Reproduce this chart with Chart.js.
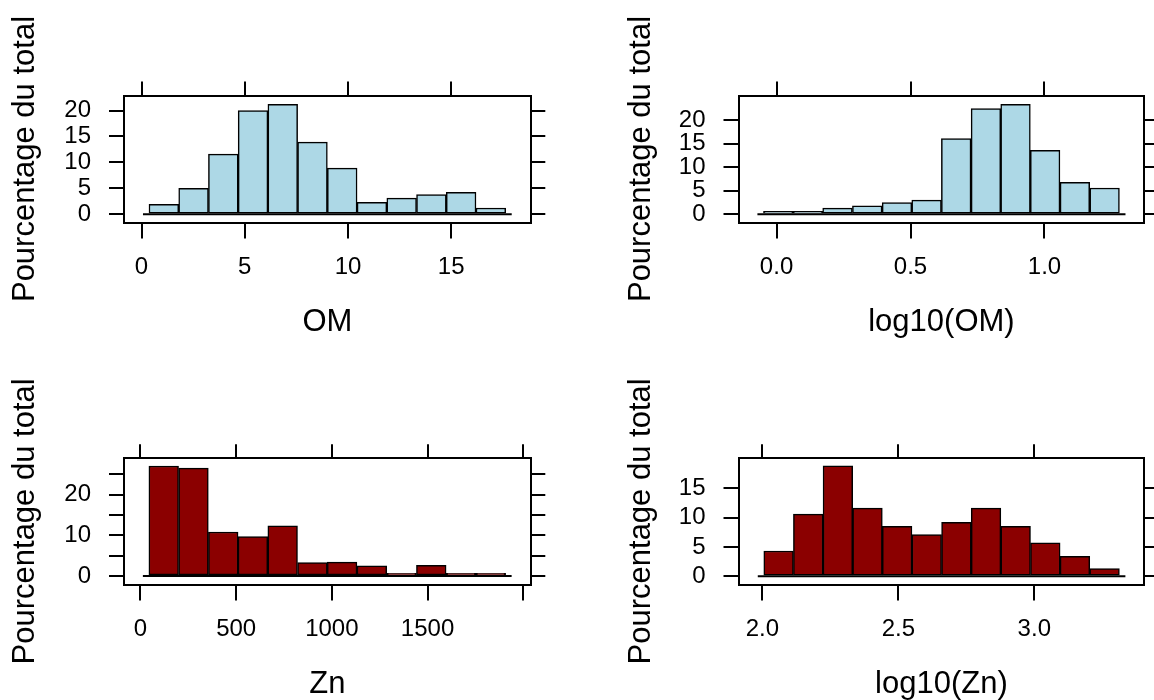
<!DOCTYPE html>
<html>
<head>
<meta charset="utf-8">
<script src="https://cdn.jsdelivr.net/npm/chart.js@4.4.1/dist/chart.umd.min.js"></script>
<style>
  html, body { margin: 0; padding: 0; background: #fff; overflow: hidden; }
  canvas { position: absolute; left: 0; top: 0; }
</style>
</head>
<body>
<canvas id="omChart" width="1154" height="700"></canvas>
<canvas id="logOmChart" width="1154" height="700"></canvas>
<canvas id="znChart" width="1154" height="700"></canvas>
<canvas id="logZnChart" width="1154" height="700"></canvas>
<script>
// histogram breaks and bar heights (% of total)
const omBreaks = [0.36, 1.80, 3.24, 4.68, 6.12, 7.56, 9.00, 10.44, 11.88, 13.32, 14.76, 16.20, 17.64];
const omPct = [1.9, 5.0, 11.6, 20.0, 21.2, 13.9, 8.9, 2.3, 3.1, 3.8, 4.2, 1.2];

const logOmBreaks = [-0.049, 0.062, 0.172, 0.283, 0.394, 0.505, 0.615, 0.726, 0.837, 0.947, 1.058, 1.169, 1.280];
const logOmPct = [0.65, 0.65, 1.3, 1.8, 2.5, 3.0, 16.1, 22.5, 23.4, 13.6, 6.8, 5.6];

const znBreaks = [44, 199, 355, 510, 665, 821, 976, 1131, 1287, 1442, 1597, 1753, 1908];
const znPct = [27.0, 26.5, 10.8, 9.7, 12.3, 3.3, 3.4, 2.5, 0.65, 2.6, 0.65, 0.65];

const logZnBreaks = [2.005, 2.114, 2.223, 2.332, 2.441, 2.550, 2.659, 2.768, 2.877, 2.986, 3.095, 3.204, 3.313];
const logZnPct = [4.3, 10.6, 18.8, 11.6, 8.5, 7.1, 9.2, 11.6, 8.5, 5.7, 3.4, 1.3];

// axis ticks and labels
const omTicks = [0, 5, 10, 15];
const omTickLabels = ['0', '5', '10', '15'];
const logOmTicks = [0, 0.5, 1.0];
const logOmTickLabels = ['0.0', '0.5', '1.0'];
const znTicks = [0, 500, 1000, 1500, 2000];
const znTickLabels = ['0', '500', '1000', '1500', ''];
const logZnTicks = [2.0, 2.5, 3.0];
const logZnTickLabels = ['2.0', '2.5', '3.0'];

const pctTicks = [0, 5, 10, 15, 20];
const pctTickLabels = ['0', '5', '10', '15', '20'];
const znPctTicks = [0, 5, 10, 15, 20, 25];
const znPctTickLabels = ['0', '', '10', '', '20', ''];
const logZnPctTicks = [0, 5, 10, 15];
const logZnPctTickLabels = ['0', '5', '10', '15'];

const yTitle = 'Pourcentage du total';

const FAMILY = "'Liberation Sans', Arial, sans-serif";
const tickFont = { family: FAMILY, size: 24, lineHeight: 1 };
const titleFont = { family: FAMILY, size: 31, lineHeight: 1 };

// zero line running a little past the outer bars
const baselinePlugin = {
    id: 'baseline',
    afterDatasetsDraw(chart, args, opts) {
        const { ctx, scales: { x, y } } = chart;
        const br = opts.breaks;
        const y0 = y.getPixelForValue(0);
        ctx.save();
        ctx.strokeStyle = '#000';
        ctx.lineWidth = 2;
        ctx.beginPath();
        ctx.moveTo(x.getPixelForValue(br[0]) - 6, y0);
        ctx.lineTo(x.getPixelForValue(br[br.length - 1]) + 6, y0);
        ctx.stroke();
        ctx.restore();
    }
};

function fixedSize(prop, v) {
    return s => { s[prop] = v; };
}

function setTicks(values) {
    return s => { s.ticks = values.map(v => ({ value: v })); };
}

function axisGrid(len) {
    return {
        display: true,
        drawOnChartArea: false,
        drawTicks: true,
        tickLength: len,
        tickWidth: 2,
        tickColor: '#000',
        lineWidth: 2,
        color: '#000',
        offset: false
    };
}

const axisBorder = { display: true, color: '#000', width: 2 };

function renderHistogram(canvasId, cfg) {
    const br = cfg.breaks;
    const points = cfg.pct.map((p, i) => ({ x: (br[i] + br[i + 1]) / 2, y: p }));
    const ctx = document.getElementById(canvasId).getContext('2d');

    new Chart(ctx, {
        type: 'bar',
        data: {
            datasets: [{
                data: points,
                backgroundColor: cfg.color,
                borderColor: '#000',
                borderWidth: 1.5,
                borderSkipped: false,
                barPercentage: 1,
                categoryPercentage: 1,
                grouped: false
            }]
        },
        options: {
            responsive: false,
            animation: false,
            devicePixelRatio: 1,
            events: [],
            layout: { padding: cfg.padding },
            plugins: {
                legend: { display: false },
                tooltip: { enabled: false },
                baseline: { breaks: br }
            },
            scales: {
                x: {
                    type: 'linear',
                    position: 'bottom',
                    min: cfg.xRange[0],
                    max: cfg.xRange[1],
                    offset: false,
                    afterBuildTicks: setTicks(cfg.xTicks),
                    afterFit: fixedSize('height', 115),
                    grid: axisGrid(16),
                    border: axisBorder,
                    ticks: {
                        font: tickFont,
                        color: '#000',
                        padding: 17,
                        maxRotation: 0,
                        autoSkip: false,
                        callback: (v, i) => cfg.xLabels[i]
                    },
                    title: { display: true, text: cfg.xTitle, font: titleFont, color: '#000', padding: 0 }
                },
                x2: {
                    type: 'linear',
                    position: 'top',
                    min: cfg.xRange[0],
                    max: cfg.xRange[1],
                    offset: false,
                    afterBuildTicks: setTicks(cfg.xTicks),
                    afterFit: fixedSize('height', 14),
                    grid: axisGrid(14),
                    border: axisBorder,
                    ticks: { display: false }
                },
                y: {
                    type: 'linear',
                    position: 'left',
                    min: cfg.yRange[0],
                    max: cfg.yRange[1],
                    afterBuildTicks: setTicks(cfg.yTicks),
                    afterFit: fixedSize('width', cfg.yWidth),
                    grid: axisGrid(15),
                    border: axisBorder,
                    ticks: {
                        font: tickFont,
                        color: '#000',
                        padding: 18,
                        autoSkip: false,
                        callback: (v, i) => cfg.yLabels[i]
                    },
                    title: { display: true, text: yTitle, font: titleFont, color: '#000', padding: 0 }
                },
                y2: {
                    type: 'linear',
                    position: 'right',
                    min: cfg.yRange[0],
                    max: cfg.yRange[1],
                    afterBuildTicks: setTicks(cfg.yTicks),
                    afterFit: fixedSize('width', cfg.y2Width),
                    grid: axisGrid(14.6),
                    border: axisBorder,
                    ticks: { display: false }
                }
            }
        },
        plugins: [baselinePlugin]
    });
}

const leftCol = { left: 10.2, right: 608.7, yWidth: 113.8, y2Width: 14.6 };
const rightCol = { left: 625.5, right: 0, yWidth: 113, y2Width: 9.6 };
const topRow = { top: 81.5, bottom: 362.5 };
const bottomRow = { top: 444.3, bottom: 0.5 };

function panelLayout(col, row) {
    return {
        padding: { left: col.left, right: col.right, top: row.top, bottom: row.bottom },
        yWidth: col.yWidth,
        y2Width: col.y2Width
    };
}

renderHistogram('omChart', Object.assign(panelLayout(leftCol, topRow), {
    breaks: omBreaks, pct: omPct, color: '#ADD8E6',
    xRange: [-0.85, 18.85], yRange: [-1.6, 22.9],
    xTicks: omTicks, xLabels: omTickLabels,
    yTicks: pctTicks, yLabels: pctTickLabels,
    xTitle: 'OM'
}));

renderHistogram('logOmChart', Object.assign(panelLayout(rightCol, topRow), {
    breaks: logOmBreaks, pct: logOmPct, color: '#ADD8E6',
    xRange: [-0.142, 1.373], yRange: [-1.75, 25.3],
    xTicks: logOmTicks, xLabels: logOmTickLabels,
    yTicks: pctTicks, yLabels: pctTickLabels,
    xTitle: 'log10(OM)'
}));

renderHistogram('znChart', Object.assign(panelLayout(leftCol, bottomRow), {
    breaks: znBreaks, pct: znPct, color: '#8B0000',
    xRange: [-86, 2039], yRange: [-2.1, 28.9],
    xTicks: znTicks, xLabels: znTickLabels,
    yTicks: znPctTicks, yLabels: znPctTickLabels,
    xTitle: 'Zn'
}));

renderHistogram('logZnChart', Object.assign(panelLayout(rightCol, bottomRow), {
    breaks: logZnBreaks, pct: logZnPct, color: '#8B0000',
    xRange: [1.912, 3.405], yRange: [-1.4, 20.1],
    xTicks: logZnTicks, xLabels: logZnTickLabels,
    yTicks: logZnPctTicks, yLabels: logZnPctTickLabels,
    xTitle: 'log10(Zn)'
}));
</script>
</body>
</html>
